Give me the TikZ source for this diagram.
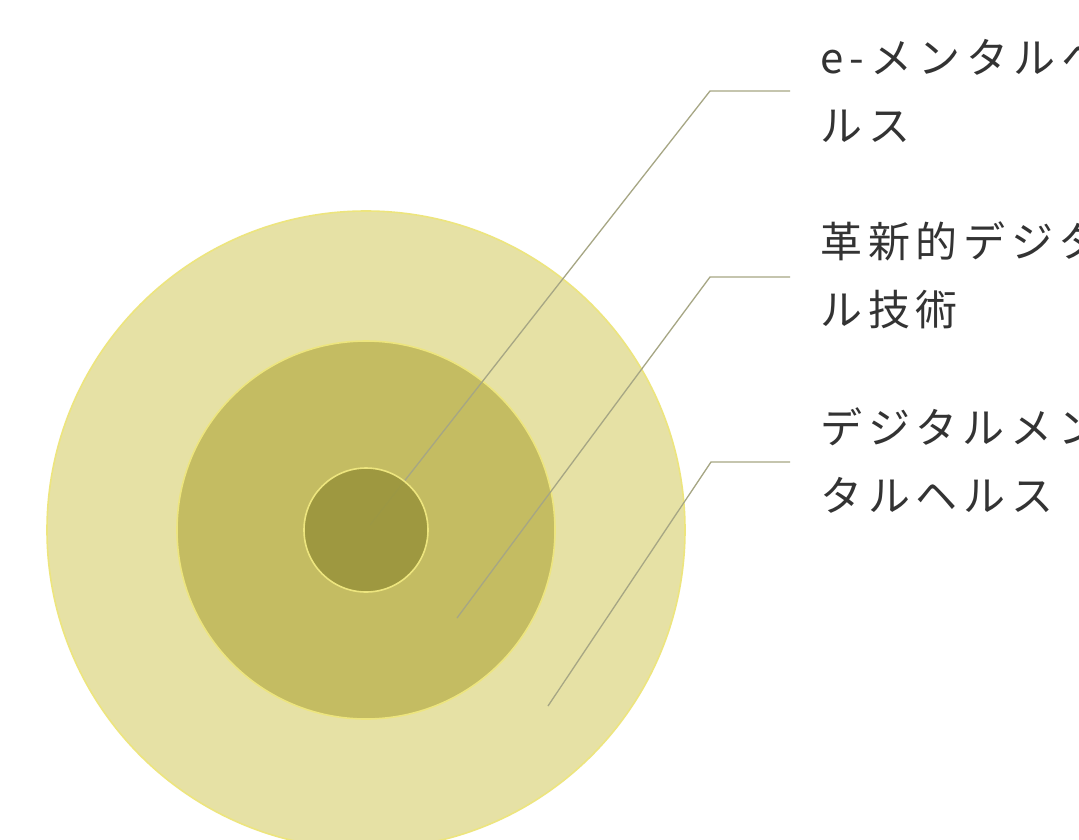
\documentclass[tikz,border=0pt]{standalone}
\usepackage{fontspec}
\newfontfamily\jpfont{Noto Sans CJK JP}[LetterSpace=14]
\definecolor{outerc}{HTML}{E6E1A5}
\definecolor{midc}{HTML}{C4BC62}
\definecolor{innerc}{HTML}{9B963E}
\definecolor{edgec}{HTML}{EDE57E}
\definecolor{leaderc}{HTML}{A6A684}
\definecolor{textc}{HTML}{333333}
\tikzset{
  ring/.style={circle, draw=edgec, line width=1.6pt, inner sep=0pt},
  leader/.style={draw=leaderc, line width=1.3pt, line join=round},
  lab/.style={anchor=west, align=left, inner sep=0pt, text=textc,
    font=\jpfont\fontsize{42}{68}\selectfont}
}
\begin{document}
\begin{tikzpicture}[x=1pt,y=-1pt]
\useasboundingbox (0,0) rectangle (1079,839);
\clip (0,0) rectangle (1079,839);
\fill[white] (0,0) rectangle (1079,839);
% circles
\node[ring, fill=outerc, minimum size=638pt] (outer) at (366,530) {};
\node[ring, fill=midc, minimum size=378pt] (mid) at (366,530) {};
% leader coordinates
\coordinate (s1) at (370,525);
\coordinate (k1) at (710,91);
\coordinate (e1) at (790,91);
\coordinate (s2) at (457,618);
\coordinate (k2) at (710,277);
\coordinate (e2) at (790,277);
\coordinate (s3) at (548,706);
\coordinate (k3) at (711,462);
\coordinate (e3) at (790,462);
\draw[leader] (s1) -- (k1) -- (e1);
\draw[leader] (s2) -- (k2) -- (e2);
\draw[leader] (s3) -- (k3) -- (e3);
% inner circle over the first leader's end
\node[ring, fill=innerc, fill opacity=0.92, minimum size=124pt] (inner) at (366,530) {};
% labels
\node[lab] (l1) at (820,91) {e-メンタルヘ\\ルス};
\node[lab] (l2) at (820,275) {革新的デジタ\\ル技術};
\node[lab] (l3) at (820,461) {デジタルメン\\タルヘルス};
\end{tikzpicture}
\end{document}
